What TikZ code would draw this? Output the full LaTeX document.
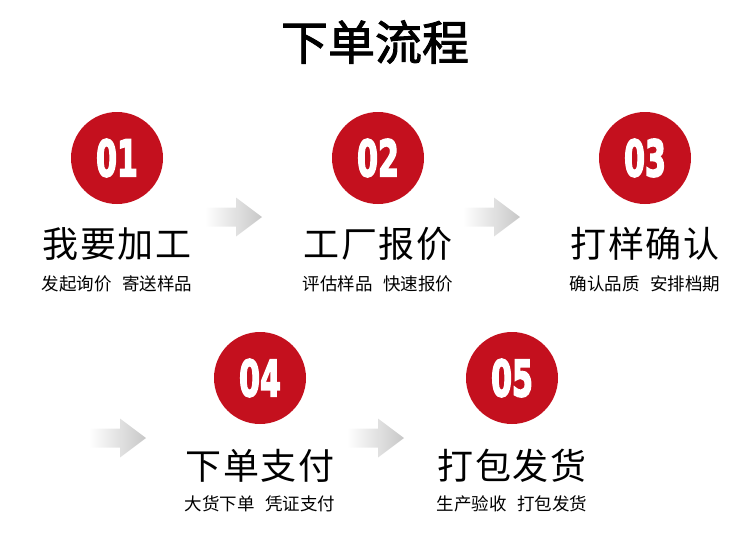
\documentclass[tikz,border=0pt]{standalone}
\usepackage{fontspec}
\newfontfamily\cjk[LetterSpace=4]{Noto Sans CJK SC}
\newfontfamily\cjksub[WordSpace=2.6]{Noto Sans CJK SC}
\newfontfamily\cjktitle[FakeBold=2]{Noto Sans CJK SC}
\newfontfamily\numfont{DejaVu Sans}
\usetikzlibrary{positioning}
\definecolor{stepred}{RGB}{196,16,30}

\begin{document}
\begin{tikzpicture}[x=1pt, y=-1pt, node distance=22pt,
			num/.style={circle, fill=stepred, minimum size=92pt, inner sep=0, outer sep=0, text=white,
				font=\numfont\bfseries\fontsize{50}{50}\selectfont\addfontfeature{FakeBold=4}},
			ttl/.style={inner sep=0, text height=31.7pt, text depth=4.3pt, font=\cjk\fontsize{36}{36}\selectfont},
			sub/.style={inner sep=0, text height=15.4pt, text depth=2.1pt, font=\cjksub\fontsize{17.5}{17.5}\selectfont},
			garrow/.pic={\shade[left color=white, right color=black!22]
				(0,-9.5) -- (31,-9.5) -- (31,-19.5) -- (57,0) -- (31,19.5) -- (31,9.5) -- (0,9.5) -- cycle;}]
			\useasboundingbox (0,0) rectangle (750,544);
			\node[font=\cjktitle\fontsize{47}{47}\selectfont] (title) at (375,42) {下单流程};
			% first row
			\node[num] (n1) at (117,158) {\scalebox{0.6}[1]{01}};
			\node[num] (n2) at (378,158) {\scalebox{0.6}[1]{02}};
			\node[num] (n3) at (645,158) {\scalebox{0.6}[1]{03}};
			\node[ttl, below=of n1] (t1) {我要加工};
			\node[ttl, below=of n2] (t2) {工厂报价};
			\node[ttl, below=of n3] (t3) {打样确认};
			\node[sub, below=12pt of t1] (s1) {发起询价 寄送样品};
			\node[sub, below=12pt of t2] (s2) {评估样品 快速报价};
			\node[sub, below=12pt of t3] (s3) {确认品质 安排档期};
			% second row
			\node[num] (n4) at (260,378) {\scalebox{0.6}[1]{04}};
			\node[num] (n5) at (512,378) {\scalebox{0.6}[1]{05}};
			\node[ttl, below=24pt of n4] (t4) {下单支付};
			\node[ttl, below=24pt of n5] (t5) {打包发货};
			\node[sub, below=10pt of t4] (s4) {大货下单 凭证支付};
			\node[sub, below=10pt of t5] (s5) {生产验收 打包发货};
			% arrows
			\pic at (205,217) {garrow};
			\pic at (463,217) {garrow};
			\pic at (89,438) {garrow};
			\pic at (347,438) {garrow};
		\end{tikzpicture}
\end{document}
